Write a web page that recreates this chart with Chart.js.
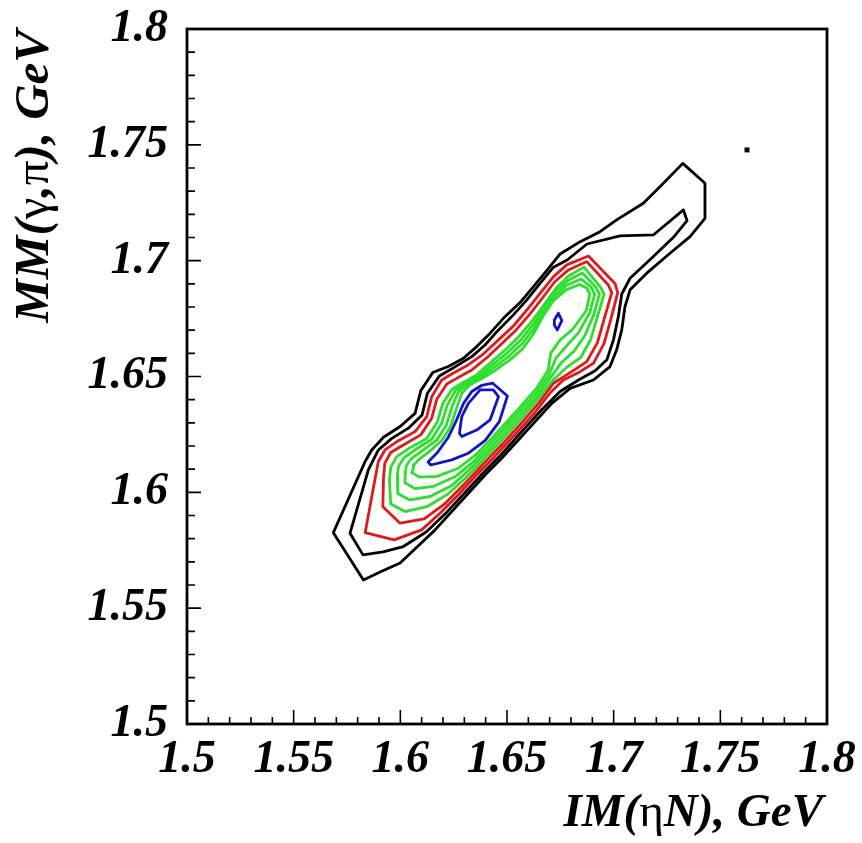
<!DOCTYPE html>
<html>
<head>
<meta charset="utf-8">
<script src="https://cdn.jsdelivr.net/npm/chart.js@4/dist/chart.umd.min.js"></script>
<style>
  html, body { margin: 0; padding: 0; background: #fff; }
  canvas { display: block; }
</style>
</head>
<body>
<canvas id="c" width="862" height="843"></canvas>
<script>
// Axis ticks (GeV)
const xTickValues = [1.5, 1.55, 1.6, 1.65, 1.7, 1.75, 1.8];
const xTickLabels = ['1.5', '1.55', '1.6', '1.65', '1.7', '1.75', '1.8'];
const yTickValues = [1.5, 1.55, 1.6, 1.65, 1.7, 1.75, 1.8];
const yTickLabels = ['1.5', '1.55', '1.6', '1.65', '1.7', '1.75', '1.8'];
const minorTickValues = [1.51, 1.52, 1.53, 1.54, 1.56, 1.57, 1.58, 1.59, 1.61, 1.62, 1.63, 1.64,
                         1.66, 1.67, 1.68, 1.69, 1.71, 1.72, 1.73, 1.74, 1.76, 1.77, 1.78, 1.79];

// Contour lines of the IM(eta N) vs MM(gamma,pi) distribution, [IM, MM] in GeV
const contourBlackOuter = [[1.5827,1.5622],[1.5686,1.5826],[1.5835,1.6133],[1.5866,1.6183],[1.5921,1.6238],[1.5999,1.6284],[1.6069,1.6341],[1.6096,1.6439],[1.6152,1.6517],[1.6225,1.6543],[1.6296,1.6579],[1.6358,1.6629],[1.6421,1.6687],[1.6483,1.6751],[1.6561,1.6819],[1.6624,1.6888],[1.6686,1.6957],[1.6749,1.7029],[1.6843,1.7082],[1.6936,1.7125],[1.7014,1.7176],[1.7139,1.7248],[1.7218,1.7320],[1.7324,1.7420],[1.7428,1.7334],[1.7428,1.7183],[1.7358,1.7104],[1.7264,1.7032],[1.7155,1.6946],[1.7077,1.6874],[1.7053,1.6802],[1.7038,1.6701],[1.7014,1.6615],[1.6983,1.6543],[1.6905,1.6485],[1.6796,1.6449],[1.6710,1.6384],[1.6632,1.6305],[1.6553,1.6226],[1.6475,1.6147],[1.6397,1.6075],[1.6319,1.5996],[1.6241,1.5917],[1.6163,1.5838],[1.6077,1.5763],[1.5999,1.5695],[1.5905,1.5656]];
const contourBlackInner = [[1.7327,1.7219],[1.7186,1.7111],[1.7030,1.7107],[1.6875,1.7072],[1.6782,1.7003],[1.6718,1.6972],[1.6655,1.6902],[1.6593,1.6831],[1.6530,1.6766],[1.6460,1.6701],[1.6397,1.6636],[1.6335,1.6586],[1.6264,1.6546],[1.6183,1.6502],[1.6127,1.6428],[1.6102,1.6334],[1.6038,1.6277],[1.5960,1.6233],[1.5897,1.6183],[1.5850,1.6097],[1.5764,1.5823],[1.5825,1.5730],[1.5919,1.5743],[1.6014,1.5766],[1.6121,1.5829],[1.6208,1.5905],[1.6293,1.5989],[1.6378,1.6074],[1.6471,1.6161],[1.6558,1.6251],[1.6666,1.6360],[1.6749,1.6435],[1.6835,1.6485],[1.6913,1.6525],[1.6968,1.6572],[1.6999,1.6658],[1.7022,1.6759],[1.7038,1.6856],[1.7077,1.6924],[1.7186,1.7018],[1.7280,1.7101],[1.7344,1.7173]];
const contourRedOuter = [[1.5835,1.5826],[1.5971,1.5795],[1.6100,1.5838],[1.6186,1.5910],[1.6268,1.5985],[1.6350,1.6068],[1.6443,1.6155],[1.6537,1.6249],[1.6633,1.6347],[1.6705,1.6432],[1.6764,1.6485],[1.6843,1.6521],[1.6905,1.6557],[1.6955,1.6643],[1.6986,1.6744],[1.7019,1.6862],[1.7007,1.6900],[1.6882,1.7020],[1.6780,1.6982],[1.6718,1.6931],[1.6655,1.6859],[1.6593,1.6787],[1.6530,1.6718],[1.6460,1.6658],[1.6389,1.6597],[1.6311,1.6546],[1.6241,1.6511],[1.6194,1.6485],[1.6147,1.6413],[1.6124,1.6327],[1.6069,1.6262],[1.5991,1.6223],[1.5928,1.6183],[1.5897,1.6133],[1.5882,1.6061]];
const contourRedInner = [[1.5921,1.6061],[1.5918,1.5938],[1.5999,1.5867],[1.6112,1.5885],[1.6206,1.5949],[1.6292,1.6028],[1.6379,1.6113],[1.6475,1.6205],[1.6568,1.6300],[1.6651,1.6388],[1.6718,1.6471],[1.6803,1.6521],[1.6874,1.6564],[1.6924,1.6646],[1.6955,1.6747],[1.6991,1.6862],[1.6975,1.6895],[1.6874,1.6996],[1.6788,1.6960],[1.6725,1.6910],[1.6668,1.6841],[1.6608,1.6770],[1.6543,1.6701],[1.6475,1.6641],[1.6408,1.6583],[1.6335,1.6528],[1.6264,1.6492],[1.6218,1.6468],[1.6171,1.6402],[1.6147,1.6320],[1.6096,1.6248],[1.6022,1.6209],[1.5955,1.6172],[1.5927,1.6125]];
const contourGreen1 = [[1.5949,1.6054],[1.5955,1.5950],[1.6022,1.5917],[1.6124,1.5938],[1.6222,1.5992],[1.6304,1.6060],[1.6385,1.6137],[1.6472,1.6222],[1.6561,1.6313],[1.6643,1.6400],[1.6710,1.6478],[1.6780,1.6540],[1.6846,1.6583],[1.6893,1.6661],[1.6924,1.6759],[1.6955,1.6856],[1.6939,1.6885],[1.6861,1.6972],[1.6788,1.6934],[1.6733,1.6885],[1.6678,1.6816],[1.6624,1.6747],[1.6561,1.6678],[1.6496,1.6619],[1.6428,1.6563],[1.6358,1.6507],[1.6288,1.6471],[1.6243,1.6445],[1.6199,1.6384],[1.6174,1.6305],[1.6124,1.6232],[1.6046,1.6193],[1.5983,1.6154],[1.5955,1.6108]];
const contourGreen2 = [[1.5986,1.6071],[1.5988,1.5995],[1.6045,1.5967],[1.6140,1.5982],[1.6239,1.6028],[1.6321,1.6095],[1.6400,1.6169],[1.6479,1.6247],[1.6562,1.6332],[1.6643,1.6417],[1.6704,1.6495],[1.6755,1.6560],[1.6813,1.6608],[1.6864,1.6675],[1.6907,1.6767],[1.6933,1.6856],[1.6918,1.6884],[1.6853,1.6947],[1.6785,1.6914],[1.6728,1.6867],[1.6675,1.6797],[1.6622,1.6724],[1.6566,1.6659],[1.6502,1.6603],[1.6433,1.6550],[1.6366,1.6501],[1.6300,1.6468],[1.6258,1.6439],[1.6219,1.6374],[1.6194,1.6298],[1.6147,1.6229],[1.6075,1.6187],[1.6018,1.6150],[1.5991,1.6111]];
const contourGreen3 = [[1.6024,1.6087],[1.6021,1.6041],[1.6068,1.6016],[1.6156,1.6026],[1.6256,1.6067],[1.6339,1.6129],[1.6415,1.6202],[1.6485,1.6272],[1.6561,1.6350],[1.6642,1.6434],[1.6698,1.6510],[1.6730,1.6580],[1.6778,1.6631],[1.6836,1.6690],[1.6888,1.6776],[1.6911,1.6856],[1.6896,1.6884],[1.6847,1.6921],[1.6780,1.6894],[1.6722,1.6846],[1.6671,1.6777],[1.6622,1.6702],[1.6569,1.6639],[1.6508,1.6587],[1.6439,1.6538],[1.6374,1.6497],[1.6314,1.6467],[1.6272,1.6433],[1.6241,1.6366],[1.6216,1.6291],[1.6171,1.6226],[1.6107,1.6182],[1.6050,1.6144],[1.6028,1.6115]];
const contourGreen4 = [[1.6061,1.6104],[1.6053,1.6085],[1.6090,1.6066],[1.6172,1.6069],[1.6272,1.6104],[1.6356,1.6164],[1.6430,1.6235],[1.6492,1.6297],[1.6562,1.6369],[1.6641,1.6452],[1.6693,1.6527],[1.6705,1.6600],[1.6746,1.6655],[1.6808,1.6704],[1.6871,1.6784],[1.6889,1.6856],[1.6874,1.6882],[1.6839,1.6897],[1.6777,1.6874],[1.6718,1.6828],[1.6668,1.6759],[1.6621,1.6679],[1.6574,1.6620],[1.6514,1.6572],[1.6444,1.6526],[1.6382,1.6491],[1.6327,1.6464],[1.6288,1.6428],[1.6261,1.6356],[1.6236,1.6284],[1.6194,1.6223],[1.6136,1.6176],[1.6085,1.6140],[1.6064,1.6118]];
const contourBlueOuter = [[1.6433,1.6471],[1.6502,1.6416],[1.6464,1.6305],[1.6397,1.6223],[1.6319,1.6169],[1.6241,1.6140],[1.6143,1.6118],[1.6130,1.6131],[1.6174,1.6172],[1.6225,1.6238],[1.6264,1.6313],[1.6296,1.6384],[1.6335,1.6435],[1.6382,1.6462]];
const contourBlueInner = [[1.6374,1.6442],[1.6436,1.6442],[1.6460,1.6413],[1.6421,1.6313],[1.6358,1.6269],[1.6288,1.6241],[1.6277,1.6255],[1.6288,1.6327],[1.6319,1.6384]];
const contourBlueSmall = [[1.6722,1.6744],[1.6741,1.6773],[1.6757,1.6741],[1.6736,1.6701],[1.6721,1.6723]];
const strayEntry = [[1.7625, 1.7478]];

const BLACK = '#000000';
const RED = '#e01a1a';
const GREEN = '#2fde2f';
const BLUE = '#1414c4';
const SERIF = '"Liberation Serif", "Times New Roman", serif';
const LABEL_SIZE = 46;

const xTitleParts = [['IM(', 'italic bold'], ['\u03b7', 'normal'], ['N), GeV', 'italic bold']];
const yTitleParts = [['MM(', 'italic bold'], ['\u03b3', 'normal'], [',', 'italic bold'], ['\u03c0', 'normal'], ['), GeV', 'italic bold']];

function closedLoop(points) {
  return points.concat([points[0]]).map(([x, y]) => ({ x, y }));
}

function contour(points, color) {
  return {
    data: closedLoop(points),
    showLine: true,
    borderColor: color,
    borderWidth: 2.8,
    pointRadius: 0,
    fill: false,
    tension: 0,
    borderJoinStyle: 'round',
    borderCapStyle: 'round'
  };
}

// Draws a title made of runs with different font styles, right-aligned at the origin
function drawRuns(ctx, runs, size) {
  let total = 0;
  runs.forEach(([t, s]) => { ctx.font = `${s} ${size}px ${SERIF}`; total += ctx.measureText(t).width; });
  let x = -total;
  runs.forEach(([t, s]) => {
    ctx.font = `${s} ${size}px ${SERIF}`;
    ctx.fillText(t, x, 0);
    x += ctx.measureText(t).width;
  });
}

const frameTicksTitles = {
  id: 'frameTicksTitles',
  afterDraw(chart) {
    const { ctx, chartArea: a, scales: { x, y } } = chart;
    ctx.save();
    ctx.strokeStyle = BLACK;
    ctx.lineWidth = 1.6;
    ctx.beginPath();
    xTickValues.forEach(v => { const p = x.getPixelForValue(v); ctx.moveTo(p, a.bottom); ctx.lineTo(p, a.bottom - 14); });
    minorTickValues.forEach(v => { const p = x.getPixelForValue(v); ctx.moveTo(p, a.bottom); ctx.lineTo(p, a.bottom - 7); });
    yTickValues.forEach(v => { const p = y.getPixelForValue(v); ctx.moveTo(a.left, p); ctx.lineTo(a.left + 14, p); });
    minorTickValues.forEach(v => { const p = y.getPixelForValue(v); ctx.moveTo(a.left, p); ctx.lineTo(a.left + 8, p); });
    ctx.stroke();

    ctx.lineWidth = 2.8;
    ctx.strokeRect(a.left, a.top, a.right - a.left, a.bottom - a.top);

    ctx.fillStyle = BLACK;
    ctx.textAlign = 'left';
    ctx.textBaseline = 'alphabetic';
    ctx.save();
    ctx.translate(a.right - 4, 826);
    drawRuns(ctx, xTitleParts, 47);
    ctx.restore();
    ctx.save();
    ctx.translate(48, a.top + 1);
    ctx.rotate(-Math.PI / 2);
    drawRuns(ctx, yTitleParts, 49);
    ctx.restore();
    ctx.restore();
  }
};

const tickFont = { family: SERIF, size: LABEL_SIZE, weight: 'bold', style: 'italic' };

function draw() {
  new Chart(document.getElementById('c'), {
    type: 'scatter',
    data: {
      datasets: [
        contour(contourBlackOuter, BLACK),
        contour(contourBlackInner, BLACK),
        contour(contourRedOuter, RED),
        contour(contourRedInner, RED),
        contour(contourGreen1, GREEN),
        contour(contourGreen2, GREEN),
        contour(contourGreen3, GREEN),
        contour(contourGreen4, GREEN),
        contour(contourBlueOuter, BLUE),
        contour(contourBlueInner, BLUE),
        contour(contourBlueSmall, BLUE),
        {
          data: strayEntry.map(([x, y]) => ({ x, y })),
          pointStyle: 'rect',
          pointRadius: 3.5,
          backgroundColor: BLACK,
          borderColor: BLACK,
          borderWidth: 0
        }
      ]
    },
    options: {
      responsive: false,
      animation: false,
      devicePixelRatio: 1,
      layout: { padding: { top: 29, right: 35, left: 0, bottom: 0 } },
      plugins: { legend: { display: false }, tooltip: { enabled: false } },
      scales: {
        x: {
          type: 'linear',
          position: 'bottom',
          min: 1.5,
          max: 1.8,
          grid: { display: false, drawTicks: false },
          border: { display: false },
          afterBuildTicks: s => { s.ticks = xTickValues.map(v => ({ value: v })); },
          afterFit: s => { s.height = 119; s.paddingLeft = 0; s.paddingRight = 0; },
          ticks: {
            autoSkip: false,
            maxRotation: 0,
            minRotation: 0,
            padding: 9,
            color: BLACK,
            font: tickFont,
            callback: (v, i) => xTickLabels[i]
          }
        },
        y: {
          type: 'linear',
          position: 'left',
          min: 1.5,
          max: 1.8,
          grid: { display: false, drawTicks: false },
          border: { display: false },
          afterBuildTicks: s => { s.ticks = yTickValues.map(v => ({ value: v })); },
          afterFit: s => { s.width = 187; s.paddingTop = 0; s.paddingBottom = 0; },
          ticks: {
            autoSkip: false,
            padding: 19,
            color: BLACK,
            font: tickFont,
            callback: (v, i) => yTickLabels[i]
          }
        }
      }
    },
    plugins: [frameTicksTitles]
  });
}

if (document.fonts && document.fonts.load) {
  Promise.all([
    document.fonts.load(`italic bold ${LABEL_SIZE}px "Liberation Serif"`),
    document.fonts.load(`48px "Liberation Serif"`)
  ]).then(draw, draw);
} else {
  draw();
}
</script>
</body>
</html>
